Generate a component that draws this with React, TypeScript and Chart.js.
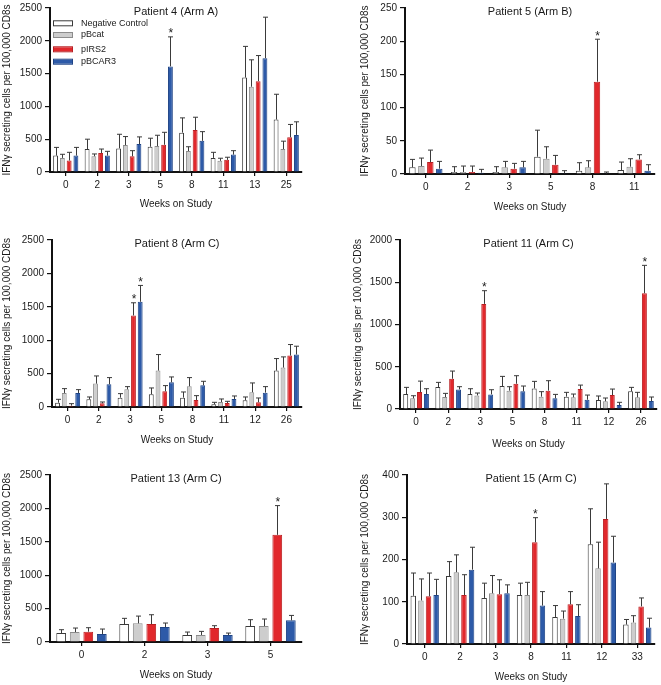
import React, { useEffect, useRef } from "react";
import { Chart, registerables } from "chart.js";

Chart.register(...registerables);

const FONT = '"Liberation Sans", Arial, Helvetica, sans-serif';

const SERIES_NAMES = ["Negative Control", "pBcat", "pIRS2", "pBCAR3"];
const SERIES_FILL = ["#ffffff", "#cdcdcd", "#e1282c", "#2d5aa8"];
const SERIES_BORDER = ["#3a3a3a", "#8c8c8c", "#b91f22", "#1f4486"];

// ---- Patient 4 (Arm A)
const p4Weeks = ["0", "2", "3", "5", "8", "11", "13", "25"];
const p4Neg = [250, 350, 360, 385, 600, 215, 1440, 800];
const p4NegErr = [125, 150, 215, 130, 225, 85, 475, 385];
const p4Bcat = [215, 240, 410, 395, 320, 170, 1300, 350];
const p4BcatErr = [55, 35, 130, 165, 65, 40, 410, 120];
const p4Irs2 = [175, 290, 240, 415, 640, 185, 1385, 530];
const p4Irs2Err = [125, 60, 85, 190, 195, 40, 390, 195];
const p4Bcar3 = [250, 250, 425, 1610, 475, 265, 1735, 565];
const p4Bcar3Err = [125, 65, 110, 450, 140, 60, 625, 200];
const p4Stars = [[3, 3]];

// ---- Patient 5 (Arm B)
const p5Weeks = ["0", "2", "3", "5", "8", "11"];
const p5Neg = [10, 3, 3, 26, 5, 6];
const p5NegErr = [12, 8, 8, 40, 12, 12];
const p5Bcat = [12, 3, 10, 23, 10, 11];
const p5BcatErr = [12, 9, 9, 18, 10, 12];
const p5Irs2 = [18, 3, 8, 14, 139, 22];
const p5Irs2Err = [18, 9, 8, 14, 64, 7];
const p5Bcar3 = [8, 2, 10, 1, 0.5, 5];
const p5Bcar3Err = [11, 5, 9, 4, 2.5, 9];
const p5Stars = [[4, 2]];

// ---- Patient 8 (Arm C)
const p8Weeks = ["0", "2", "3", "5", "8", "11", "12", "26"];
const p8Neg = [65, 115, 140, 190, 140, 40, 100, 545];
const p8NegErr = [50, 35, 60, 95, 85, 30, 50, 180];
const p8Bcat = [210, 350, 265, 545, 310, 75, 220, 590];
const p8BcatErr = [65, 115, 40, 240, 130, 45, 140, 160];
const p8Irs2 = [20, 55, 1370, 235, 105, 60, 70, 770];
const p8Irs2Err = [30, 20, 190, 85, 65, 25, 65, 165];
const p8Bcar3 = [210, 340, 1575, 370, 325, 120, 215, 785];
const p8Bcar3Err = [50, 100, 245, 80, 60, 45, 90, 125];
const p8Stars = [[2, 2], [2, 3]];

// ---- Patient 11 (Arm C)
const p11Weeks = ["0", "2", "3", "5", "8", "11", "12", "26"];
const p11Neg = [177, 260, 177, 272, 244, 146, 106, 209];
const p11NegErr = [79, 55, 63, 114, 83, 51, 48, 47];
const p11Bcat = [126, 142, 161, 217, 146, 138, 91, 138];
const p11BcatErr = [31, 43, 28, 47, 59, 39, 39, 59];
const p11Irs2 = [200, 358, 1244, 299, 217, 236, 165, 1370];
const p11Irs2Err = [130, 91, 156, 95, 118, 47, 71, 330];
const p11Bcar3 = [177, 232, 173, 209, 126, 110, 47, 94];
const p11Bcar3Err = [63, 32, 55, 63, 47, 55, 32, 48];
const p11Stars = [[2, 2], [7, 2]];

// ---- Patient 13 (Arm C)
const p13Weeks = ["0", "2", "3", "5"];
const p13Neg = [134, 269, 105, 239];
const p13NegErr = [50, 85, 44, 95];
const p13Bcat = [149, 279, 105, 239];
const p13BcatErr = [60, 109, 54, 105];
const p13Irs2 = [154, 269, 209, 1604];
const p13Irs2Err = [60, 139, 35, 438];
const p13Bcar3 = [120, 224, 105, 324];
const p13Bcar3Err = [74, 60, 29, 74];
const p13Stars = [[3, 2]];

// ---- Patient 15 (Arm C)
const p15Weeks = ["0", "2", "3", "8", "11", "12", "33"];
const p15Neg = [114, 161, 109, 116, 64, 236, 46];
const p15NegErr = [54, 34, 35, 28, 27, 84, 12];
const p15Bcat = [103, 170, 120, 116, 60, 179, 51];
const p15BcatErr = [51, 41, 42, 30, 18, 62, 16];
const p15Irs2 = [113, 116, 118, 241, 94, 296, 89];
const p15Irs2Err = [55, 48, 34, 58, 30, 83, 20];
const p15Bcar3 = [116, 176, 120, 91, 66, 193, 39];
const p15Bcar3Err = [37, 53, 20, 33, 27, 62, 22];
const p15Stars = [[3, 2]];

const Y_TITLE = "IFNγ secreting cells per 100,000 CD8s";
const X_TITLE = "Weeks on Study";

type Geo = {
  cl: number; ct: number; cw: number; ch: number;
  left: number; top: number; right: number; bottom: number;
  yTitleX: number; xTitleY: number;
};

type PanelDef = {
  title: string;
  weeks: string[];
  means: number[][];
  errs: number[][];
  stars: number[][];
  yMax: number;
  yStep: number;
  legend: boolean;
  geo: Geo;
};

const PANELS: PanelDef[] = [
  {
    title: "Patient 4 (Arm A)", weeks: p4Weeks,
    means: [p4Neg, p4Bcat, p4Irs2, p4Bcar3], errs: [p4NegErr, p4BcatErr, p4Irs2Err, p4Bcar3Err],
    stars: p4Stars, yMax: 2500, yStep: 500, legend: true,
    geo: { cl: 0, ct: 0, cw: 330, ch: 225, left: 50, top: 5, right: 302, bottom: 172, yTitleX: 7, xTitleY: 204 },
  },
  {
    title: "Patient 5 (Arm B)", weeks: p5Weeks,
    means: [p5Neg, p5Bcat, p5Irs2, p5Bcar3], errs: [p5NegErr, p5BcatErr, p5Irs2Err, p5Bcar3Err],
    stars: p5Stars, yMax: 250, yStep: 50, legend: false,
    geo: { cl: 330, ct: 0, cw: 331, ch: 225, left: 405, top: 5, right: 655, bottom: 174, yTitleX: 365, xTitleY: 207 },
  },
  {
    title: "Patient 8 (Arm C)", weeks: p8Weeks,
    means: [p8Neg, p8Bcat, p8Irs2, p8Bcar3], errs: [p8NegErr, p8BcatErr, p8Irs2Err, p8Bcar3Err],
    stars: p8Stars, yMax: 2500, yStep: 500, legend: false,
    geo: { cl: 0, ct: 225, cw: 330, ch: 230, left: 52, top: 240, right: 302, bottom: 407, yTitleX: 7, xTitleY: 440 },
  },
  {
    title: "Patient 11 (Arm C)", weeks: p11Weeks,
    means: [p11Neg, p11Bcat, p11Irs2, p11Bcar3], errs: [p11NegErr, p11BcatErr, p11Irs2Err, p11Bcar3Err],
    stars: p11Stars, yMax: 2000, yStep: 500, legend: false,
    geo: { cl: 330, ct: 225, cw: 331, ch: 230, left: 400, top: 240, right: 657, bottom: 409, yTitleX: 358, xTitleY: 444 },
  },
  {
    title: "Patient 13 (Arm C)", weeks: p13Weeks,
    means: [p13Neg, p13Bcat, p13Irs2, p13Bcar3], errs: [p13NegErr, p13BcatErr, p13Irs2Err, p13Bcar3Err],
    stars: p13Stars, yMax: 2500, yStep: 500, legend: false,
    geo: { cl: 0, ct: 455, cw: 330, ch: 230, left: 50, top: 475, right: 302, bottom: 642, yTitleX: 7, xTitleY: 675 },
  },
  {
    title: "Patient 15 (Arm C)", weeks: p15Weeks,
    means: [p15Neg, p15Bcat, p15Irs2, p15Bcar3], errs: [p15NegErr, p15BcatErr, p15Irs2Err, p15Bcar3Err],
    stars: p15Stars, yMax: 400, yStep: 100, legend: false,
    geo: { cl: 330, ct: 455, cw: 331, ch: 230, left: 407, top: 475, right: 655, bottom: 644, yTitleX: 365, xTitleY: 677 },
  },
];

const LEGEND_ROWS_Y = [23.3, 35, 49.3, 61.7];

function Panel({ p }: { p: PanelDef }) {
  const ref = useRef<HTMLCanvasElement | null>(null);
  useEffect(() => {
    const canvas = ref.current;
    if (!canvas) return;
    const g = p.geo;
    const chartLeft = g.left - g.cl;
    const chartTop = g.top - g.ct;
    const chartRight = g.right - g.cl;
    const chartBottom = g.bottom - g.ct;
    const titleSize = 10;
    const titleHalf = (titleSize * 1.2) / 2;
    const padL = Math.max(0, g.yTitleX - g.cl - titleHalf);
    const yW = chartLeft - padL;
    const xH = g.xTitleY - g.ct + titleHalf - chartBottom;
    const padB = g.ch - chartBottom - xH;
    const padR = g.cw - chartRight;

    const extras = {
      id: "extras",
      afterDatasetsDraw(chart: any) {
        const ctx = chart.ctx;
        const ys = chart.scales.y;
        ctx.save();
        // error bars
        p.means.forEach((ser, di) => {
          const meta = chart.getDatasetMeta(di);
          ser.forEach((v, i) => {
            const el = meta.data[i];
            const { x, y: top } = el.getProps(["x", "y"], true);
            const ey = ys.getPixelForValue(v + p.errs[di][i]);
            const xx = Math.round(x) + 0.5;
            ctx.strokeStyle = "#3a3a3a";
            ctx.lineWidth = 1;
            ctx.beginPath();
            ctx.moveTo(xx, top);
            ctx.lineTo(xx, ey);
            ctx.moveTo(xx - 2.5, ey);
            ctx.lineTo(xx + 2.5, ey);
            ctx.stroke();
          });
        });
        // asterisks
        ctx.fillStyle = "#222";
        ctx.font = `12px ${FONT}`;
        ctx.textAlign = "center";
        ctx.textBaseline = "middle";
        p.stars.forEach(([i, di]) => {
          const el = chart.getDatasetMeta(di).data[i];
          const { x } = el.getProps(["x"], true);
          const ey = ys.getPixelForValue(p.means[di][i] + p.errs[di][i]);
          ctx.fillText("*", x + 0.5, ey - 3);
        });
        // title
        const ca = chart.chartArea;
        ctx.fillStyle = "#1a1a1a";
        ctx.font = `11px ${FONT}`;
        ctx.fillText(p.title, (ca.left + ca.right) / 2, ca.top + 3.5);
        // legend
        if (p.legend) {
          ctx.font = `9px ${FONT}`;
          ctx.textAlign = "left";
          SERIES_NAMES.forEach((name, k) => {
            const ly = LEGEND_ROWS_Y[k] - g.ct;
            ctx.fillStyle = SERIES_FILL[k];
            ctx.fillRect(53 - g.cl, ly - 2, 19, 4);
            ctx.strokeStyle = SERIES_BORDER[k];
            ctx.lineWidth = 1;
            ctx.strokeRect(53.5 - g.cl, ly - 2.5, 19, 5);
            ctx.fillStyle = "#1a1a1a";
            ctx.fillText(name, 81 - g.cl, ly);
          });
        }
        ctx.restore();
      },
    };

    const chart = new Chart(canvas, {
      type: "bar",
      data: {
        labels: p.weeks,
        datasets: p.means.map((ser, di) => ({
          label: SERIES_NAMES[di],
          data: ser,
          backgroundColor: SERIES_FILL[di],
          borderColor: SERIES_BORDER[di],
          borderWidth: 1,
          categoryPercentage: 0.86,
          barPercentage: 0.72,
        })),
      },
      options: {
        animation: false,
        responsive: false,
        devicePixelRatio: 1,
        layout: { padding: { left: padL, right: padR, top: chartTop, bottom: padB } },
        plugins: {
          legend: { display: false },
          tooltip: { enabled: false },
          title: { display: false },
        },
        scales: {
          x: {
            offset: true,
            grid: {
              display: true,
              drawOnChartArea: false,
              drawTicks: true,
              tickLength: 4,
              offset: false,
              color: "#111",
              lineWidth: 1.2,
            },
            border: { display: true, color: "#111", width: 2 },
            ticks: {
              font: { family: FONT, size: 10, lineHeight: 1 },
              color: "#1a1a1a",
              padding: 4,
              maxRotation: 0,
              autoSkip: false,
            },
            title: {
              display: true,
              text: X_TITLE,
              font: { family: FONT, size: titleSize },
              color: "#1a1a1a",
              padding: { top: 0, bottom: 0 },
            },
            afterFit: (s: any) => {
              s.height = xH;
            },
          },
          y: {
            min: 0,
            max: p.yMax,
            grid: {
              display: true,
              drawOnChartArea: false,
              drawTicks: true,
              tickLength: 5,
              color: "#111",
              lineWidth: 1.2,
            },
            border: { display: true, color: "#111", width: 2 },
            ticks: {
              stepSize: p.yStep,
              font: { family: FONT, size: 10, lineHeight: 1 },
              color: "#1a1a1a",
              padding: 3,
              callback: (v: any) => String(v),
            },
            title: {
              display: true,
              text: Y_TITLE,
              font: { family: FONT, size: titleSize },
              color: "#1a1a1a",
              padding: { top: 0, bottom: 0 },
            },
            afterFit: (s: any) => {
              s.width = yW;
            },
          },
        },
      },
      plugins: [extras],
    } as any);
    return () => chart.destroy();
  }, [p]);

  const g = p.geo;
  return (
    <canvas
      ref={ref}
      width={g.cw}
      height={g.ch}
      style={{ position: "absolute", left: g.cl, top: g.ct, width: g.cw, height: g.ch }}
    />
  );
}

export default function App() {
  useEffect(() => {
    document.body.style.margin = "0";
    document.body.style.background = "#ffffff";
  }, []);
  return (
    <div style={{ position: "absolute", left: 0, top: 0, width: 661, height: 685, background: "#fff", overflow: "hidden" }}>
      {PANELS.map((p) => (
        <Panel key={p.title} p={p} />
      ))}
    </div>
  );
}
